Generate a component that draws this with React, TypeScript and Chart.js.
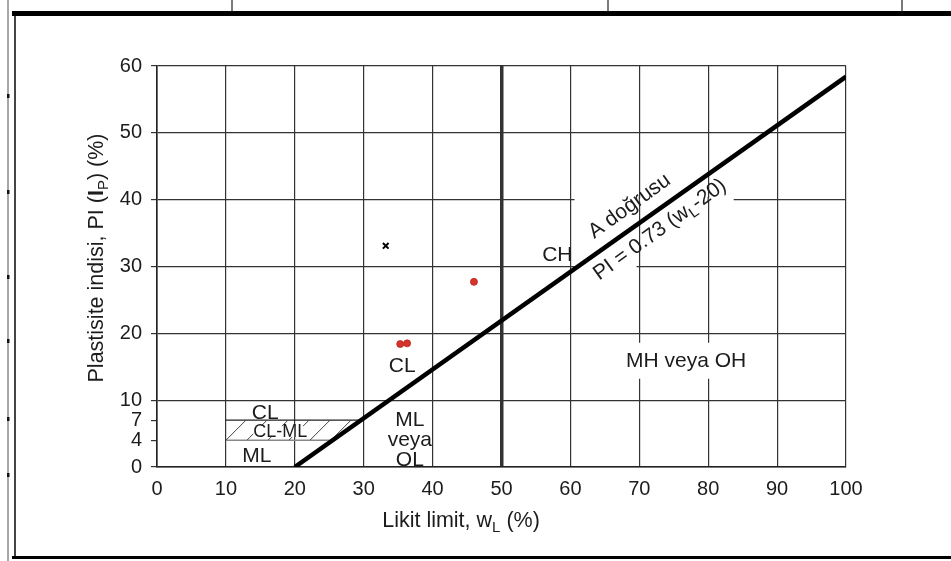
import React, { useEffect, useRef } from "react";
import { Chart, registerables } from "chart.js";

Chart.register(...registerables);

// ---- data ----
const xTicks = [0, 10, 20, 30, 40, 50, 60, 70, 80, 90, 100];
const yTicks = [0, 4, 7, 10, 20, 30, 40, 50, 60];

// A line: PI = 0.73 (wL - 20)
const aLineWL = [20, 100];
const aLinePI = [0, 58.4];

// CL-ML band limits
const bandTopPI = 7;
const bandBotPI = 4;
const bandStartWL = 10;

// measured samples
const redWL = [35.3, 36.3, 46.0];
const redPI = [18.4, 18.5, 27.7];
const crossWL = [33.2];
const crossPI = [33.1];

// zone labels
const zoneText = ["CL", "CL-ML", "ML", "ML", "veya", "OL", "CL", "CH", "MH veya OH"];
const zoneWL = [15.7, 17.9, 14.5, 36.7, 36.7, 36.7, 35.6, 58.1, 76.8];
const zonePI = [8.1, 5.3, 1.6, 7.0, 4.0, 1.05, 15.1, 31.7, 15.9];
const zoneBoxed = [false, true, false, false, false, false, false, false, true];

// gaps in horizontal grid lines behind rotated labels
const gapPI = [40, 30];
const gapFromWL = [60.6, 60.6];
const gapToWL = [83.7, 69.6];

const FONT = "'Liberation Sans', Arial, Helvetica, sans-serif";
const INK = "#1c1c1c";

const aAt = (pi: number) => 20 + pi / 0.73;

type Part = { t: string; sub?: boolean; bold?: boolean };

function drawRich(ctx: CanvasRenderingContext2D, parts: Part[], cx: number, cy: number, angle: number, size: number) {
  const fontOf = (p: Part) => `${p.bold ? "bold " : ""}${p.sub ? Math.round(size * 0.7) : size}px ${FONT}`;
  let total = 0;
  const widths = parts.map((p) => {
    ctx.font = fontOf(p);
    const w = ctx.measureText(p.t).width;
    total += w;
    return w;
  });
  ctx.save();
  ctx.translate(cx, cy);
  ctx.rotate(angle);
  ctx.fillStyle = INK;
  ctx.textBaseline = "middle";
  ctx.textAlign = "left";
  let x = -total / 2;
  parts.forEach((p, i) => {
    ctx.font = fontOf(p);
    ctx.fillText(p.t, x, p.sub ? size * 0.3 : 0);
    x += widths[i];
  });
  ctx.restore();
}

const decor = {
  id: "decor",
  beforeDraw(chart: any) {
    const { ctx, width, height } = chart;
    ctx.save();
    ctx.fillStyle = "#fff";
    ctx.fillRect(0, 0, width, height);
    // scanned page frame
    ctx.strokeStyle = "#8a8a8a";
    ctx.lineWidth = 1.5;
    ctx.beginPath();
    ctx.moveTo(8, 0);
    ctx.lineTo(8, height);
    ctx.stroke();
    ctx.strokeStyle = "#444";
    ctx.lineWidth = 2;
    ctx.beginPath();
    ctx.moveTo(15, 12);
    ctx.lineTo(15, height - 3);
    ctx.stroke();
    ctx.fillStyle = "#111";
    [94, 190, 275, 339, 417, 473].forEach((yy) => ctx.fillRect(7, yy, 2.5, 4));
    ctx.fillStyle = "#000";
    ctx.fillRect(12, 11, width - 12, 5);
    ctx.fillRect(12, height - 5, width - 12, 3);
    ctx.strokeStyle = "#222";
    ctx.lineWidth = 1.2;
    [232, 608, 902].forEach((xx) => {
      ctx.beginPath();
      ctx.moveTo(xx, 0);
      ctx.lineTo(xx, 12);
      ctx.stroke();
    });
    ctx.restore();
  },
  beforeDatasetsDraw(chart: any) {
    const { ctx, scales } = chart;
    const xs = scales.x;
    const ys = scales.y;
    const px = (v: number) => xs.getPixelForValue(v);
    const py = (v: number) => ys.getPixelForValue(v);
    ctx.save();

    // gaps in grid lines under rotated text
    gapPI.forEach((g, i) => {
      ctx.strokeStyle = "#fff";
      ctx.lineWidth = 3;
      ctx.beginPath();
      ctx.moveTo(px(gapFromWL[i]), py(g));
      ctx.lineTo(px(gapToWL[i]), py(g));
      ctx.stroke();
      ctx.strokeStyle = "#333";
      ctx.lineWidth = 1.2;
      xTicks.forEach((v) => {
        if (v > gapFromWL[i] && v < gapToWL[i]) {
          ctx.beginPath();
          ctx.moveTo(px(v), py(g) - 3);
          ctx.lineTo(px(v), py(g) + 3);
          ctx.stroke();
        }
      });
    });

    // CL-ML band lines
    ctx.strokeStyle = "#222";
    ctx.lineWidth = 1.3;
    ctx.beginPath();
    ctx.moveTo(px(bandStartWL), py(bandTopPI));
    ctx.lineTo(px(aAt(bandTopPI)), py(bandTopPI));
    ctx.stroke();
    ctx.strokeStyle = "#888";
    ctx.beginPath();
    ctx.moveTo(px(bandStartWL), py(bandBotPI));
    ctx.lineTo(px(aAt(bandBotPI)), py(bandBotPI));
    ctx.stroke();

    // hatch
    ctx.save();
    ctx.beginPath();
    ctx.moveTo(px(bandStartWL), py(bandBotPI));
    ctx.lineTo(px(bandStartWL), py(bandTopPI));
    ctx.lineTo(px(aAt(bandTopPI)), py(bandTopPI));
    ctx.lineTo(px(aAt(bandBotPI)), py(bandBotPI));
    ctx.closePath();
    ctx.clip();
    const yb = py(bandBotPI);
    const yt = py(bandTopPI);
    const h = yb - yt;
    ctx.strokeStyle = "#444";
    ctx.lineWidth = 1;
    for (let x0 = px(bandStartWL); x0 < px(aAt(bandTopPI)) + 5; x0 += 21) {
      ctx.beginPath();
      ctx.moveTo(x0, yb);
      ctx.lineTo(x0 + h, yt);
      ctx.stroke();
    }
    ctx.restore();

    // zone labels
    zoneText.forEach((t, i) => {
      const cx = px(zoneWL[i]);
      const cy = py(zonePI[i]);
      const size = t === "CL-ML" ? 18 : 21;
      ctx.font = `${size}px ${FONT}`;
      if (zoneBoxed[i]) {
        const w = ctx.measureText(t).width;
        const bh = t === "CL-ML" ? 11 : 36;
        const pad = t === "CL-ML" ? 0 : 3;
        ctx.fillStyle = "#fff";
        ctx.fillRect(cx - w / 2 - pad, cy - bh / 2, w + 2 * pad, bh);
      }
      drawRich(ctx, [{ t }], cx, cy, 0, size);
    });

    // A line labels
    const ang = -Math.atan2(py(0) - py(58.4), px(100) - px(20)) - 0.01;
    drawRich(ctx, [{ t: "A doğrusu" }], px(68.6), py(39.0), ang, 21);
    drawRich(ctx, [{ t: "PI = 0.73 (w" }, { t: "L", sub: true }, { t: "-20)" }], px(73.0), py(35.5), ang, 21);

    ctx.restore();
  },
  afterDraw(chart: any) {
    const { ctx } = chart;
    drawRich(
      ctx,
      [{ t: "Plastisite indisi, PI (" }, { t: "I", bold: true }, { t: "P", sub: true }, { t: ") (%)" }],
      97,
      258,
      -Math.PI / 2,
      21.5
    );
    drawRich(ctx, [{ t: "Likit limit, w" }, { t: "L", sub: true }, { t: " (%)" }], 461, 521, 0, 21.5);
  },
};

export default function App() {
  const ref = useRef<HTMLCanvasElement | null>(null);

  useEffect(() => {
    if (!ref.current) return;
    const chart = new Chart(ref.current, {
      type: "scatter",
      data: {
        datasets: [
          {
            label: "A doğrusu",
            data: aLineWL.map((x, i) => ({ x, y: aLinePI[i] })),
            showLine: true,
            borderColor: "#000",
            borderWidth: 4.5,
            pointRadius: 0,
            borderCapStyle: "butt",
          } as any,
          {
            label: "Numuneler",
            data: redWL.map((x, i) => ({ x, y: redPI[i] })),
            pointRadius: 3.5,
            pointBackgroundColor: "#d8322c",
            pointBorderColor: "#b52420",
            pointBorderWidth: 0.8,
          },
          {
            label: "Numune",
            data: crossWL.map((x, i) => ({ x, y: crossPI[i] })),
            pointStyle: "crossRot",
            pointRadius: 4,
            pointBorderColor: "#000",
            pointBorderWidth: 2,
          },
        ],
      },
      options: {
        responsive: false,
        animation: false,
        events: [],
        layout: { padding: { left: 0, right: 105, top: 66, bottom: 0 } },
        plugins: {
          legend: { display: false },
          tooltip: { enabled: false },
        },
        scales: {
          x: {
            type: "linear",
            min: 0,
            max: 100,
            afterBuildTicks: (s: any) => {
              s.ticks = xTicks.map((v) => ({ value: v }));
            },
            afterFit: (s: any) => {
              s.height = 94;
            },
            ticks: {
              padding: 10,
              color: INK,
              font: { family: FONT, size: 20 },
              callback: (v: any) => String(v),
              maxRotation: 0,
            },
            grid: {
              drawTicks: false,
              color: "#333",
              lineWidth: (c: any) => (c.tick && c.tick.value === 50 ? 3.5 : 1.2),
            },
            border: { display: true, color: "#222", width: 1.6 },
          },
          y: {
            type: "linear",
            min: 0,
            max: 60,
            afterBuildTicks: (s: any) => {
              s.ticks = yTicks.map((v) => ({ value: v }));
            },
            afterFit: (s: any) => {
              s.width = 157;
            },
            ticks: {
              padding: 9,
              color: INK,
              font: { family: FONT, size: 20 },
              callback: (v: any) => String(v),
              autoSkip: false,
            },
            grid: {
              drawTicks: true,
              tickLength: 6,
              tickColor: "#333",
              color: (c: any) =>
                c.tick && (c.tick.value === 4 || c.tick.value === 7) ? "rgba(0,0,0,0)" : "#333",
              lineWidth: 1.2,
            },
            border: { display: true, color: "#222", width: 1.6 },
          },
        },
      },
      plugins: [decor],
    });
    return () => chart.destroy();
  }, []);

  return (
    <div style={{ position: "absolute", left: 0, top: 0, width: 951, height: 561 }}>
      <canvas ref={ref} width={951} height={561} />
    </div>
  );
}
